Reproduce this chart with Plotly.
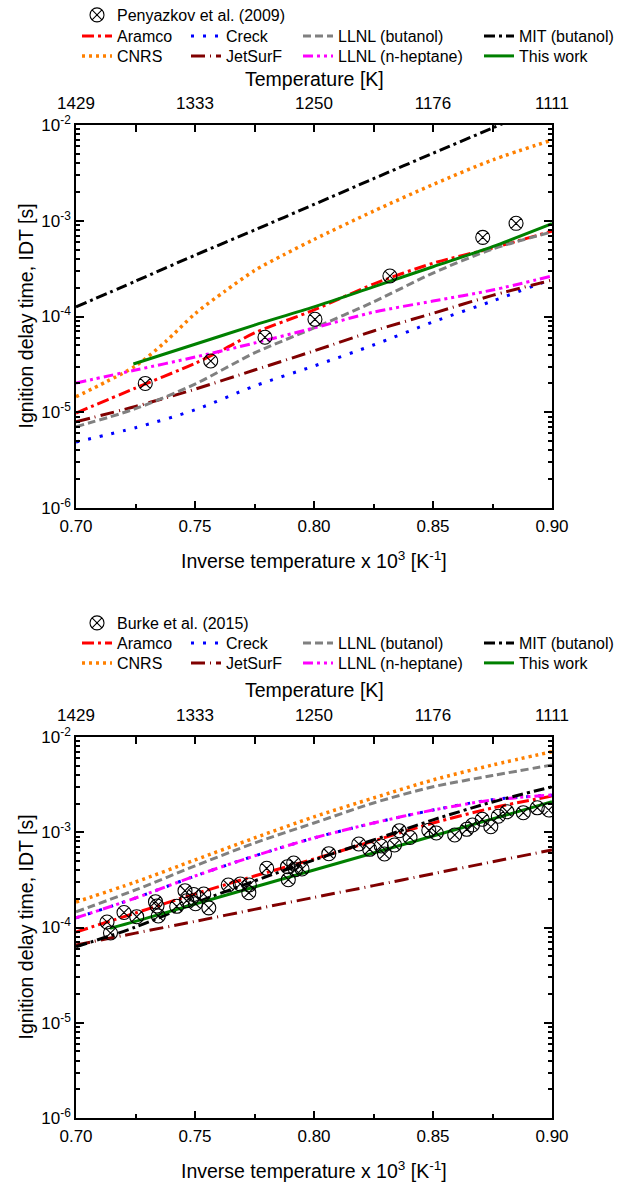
import plotly.graph_objects as go

# ---------------- data ----------------
X = [0.70, 0.725, 0.75, 0.775, 0.80, 0.825, 0.85, 0.875, 0.90]
x_ticks = [0.70, 0.75, 0.80, 0.85, 0.90]
x_minor = [0.725, 0.775, 0.825, 0.875]
temp_labels = ["1429", "1333", "1250", "1176", "1111"]
y_tick_vals = [1e-6, 1e-5, 1e-4, 1e-3, 1e-2]
y_tick_text = ["10<sup>-6</sup>", "10<sup>-5</sup>", "10<sup>-4</sup>", "10<sup>-3</sup>", "10<sup>-2</sup>"]

# Panel 1: Penyazkov et al. (2009)
peny_x = [0.7291, 0.7566, 0.7794, 0.8004, 0.8319, 0.8709, 0.8849]
peny_y = [2.0e-5, 3.43e-5, 6.07e-5, 9.35e-5, 2.65e-4, 6.71e-4, 9.4e-4]

aramco1_x = [0.70, 0.725, 0.75, 0.7625, 0.775, 0.80, 0.825, 0.85, 0.875, 0.90]
aramco1_y = [9.8e-6, 1.79e-5, 3.24e-5, 4.6e-5, 6.73e-5, 1.17e-4, 2.18e-4, 3.6e-4, 5.19e-4, 7.8e-4]
creck1_y = [4.89e-6, 6.9e-6, 1.06e-5, 1.88e-5, 3.04e-5, 5.04e-5, 8.77e-5, 1.45e-4, 2.45e-4]
llnlbut1_y = [7.06e-6, 1.09e-5, 1.97e-5, 4.16e-5, 7.59e-5, 1.42e-4, 2.84e-4, 5.07e-4, 7.64e-4]
mit1_y = [1.26e-4, 2.34e-4, 4.37e-4, 8.0e-4, 1.48e-3, 2.75e-3, 5.07e-3, 9.3e-3, 1.74e-2]
cnrs1_x = [0.70, 0.7125, 0.725, 0.7375, 0.75, 0.7625, 0.775, 0.7875, 0.80, 0.825, 0.85, 0.875, 0.90]
cnrs1_y = [1.45e-5, 2.07e-5, 3.04e-5, 5.42e-5, 1.07e-4, 1.83e-4, 3.02e-4, 4.44e-4, 6.37e-4,
           1.26e-3, 2.39e-3, 4.31e-3, 6.97e-3]
jetsurf1_y = [7.96e-6, 1.15e-5, 1.74e-5, 2.76e-5, 4.37e-5, 7.06e-5, 1.08e-4, 1.66e-4, 2.4e-4]
llnlhep1_y = [2.02e-5, 2.76e-5, 3.77e-5, 5.28e-5, 7.59e-5, 1.11e-4, 1.45e-4, 1.89e-4, 2.65e-4]
thiswork1_x = [0.7241, 0.75, 0.775, 0.80, 0.825, 0.85, 0.875, 0.90]
thiswork1_y = [3.19e-5, 5.13e-5, 8.13e-5, 1.26e-4, 2.04e-4, 3.31e-4, 5.37e-4, 9.33e-4]

# Panel 2: Burke et al. (2015)
burke_x = [0.71303, 0.71450, 0.72017, 0.72550, 0.73340, 0.73403, 0.73458, 0.74231, 0.74580,
           0.74651, 0.74945, 0.75021, 0.75366, 0.75580, 0.76399, 0.76903, 0.77282, 0.77261,
           0.78013, 0.78887, 0.79147, 0.79223, 0.78920, 0.79496, 0.80622, 0.81882, 0.82340,
           0.82824, 0.82962, 0.83382, 0.83584, 0.84034, 0.84824, 0.85139, 0.85912, 0.86416,
           0.86660, 0.87068, 0.87429, 0.87744, 0.88109, 0.88794, 0.89382, 0.89866]
burke_y = [1.142e-4, 8.76e-5, 1.437e-4, 1.298e-4, 1.866e-4, 1.681e-4, 1.32e-4, 1.669e-4, 2.434e-4,
           1.912e-4, 2.221e-4, 1.778e-4, 2.247e-4, 1.609e-4, 2.794e-4, 2.862e-4, 2.794e-4, 2.319e-4,
           4.182e-4, 4.347e-4, 4.754e-4, 4.044e-4, 3.176e-4, 4.113e-4, 5.953e-4, 7.526e-4, 6.622e-4,
           7.173e-4, 5.909e-4, 7.346e-4, 1.038e-3, 8.81e-4, 1.048e-3, 9.82e-4, 9.356e-4, 1.074e-3,
           1.192e-3, 1.368e-3, 1.144e-3, 1.471e-3, 1.643e-3, 1.604e-3, 1.806e-3, 1.712e-3]

aramco2_y = [8.97e-5, 1.42e-4, 2.25e-4, 3.47e-4, 5.24e-4, 8.09e-4, 1.25e-3, 1.8e-3, 2.4e-3]
creck2_y = [1.26e-4, 2.04e-4, 3.47e-4, 5.64e-4, 8.71e-4, 1.25e-3, 1.71e-3, 2.2e-3, 2.45e-3]
llnlbut2_y = [1.46e-4, 2.48e-4, 4.43e-4, 7.71e-4, 1.25e-3, 2.03e-3, 3.0e-3, 3.94e-3, 5.08e-3]
mit2_y = [6.28e-5, 1.01e-4, 1.81e-4, 3.08e-4, 5.12e-4, 8.3e-4, 1.35e-3, 2.08e-3, 3.0e-3]
cnrs2_y = [1.85e-4, 3.0e-4, 5.12e-4, 8.71e-4, 1.45e-3, 2.29e-3, 3.54e-3, 5.08e-3, 7.01e-3]
jetsurf2_y = [6.55e-5, 8.73e-5, 1.16e-4, 1.55e-4, 2.07e-4, 2.75e-4, 3.67e-4, 4.9e-4, 6.52e-4]
llnlhep2_y = [1.26e-4, 2.04e-4, 3.47e-4, 5.64e-4, 8.71e-4, 1.25e-3, 1.71e-3, 2.18e-3, 2.46e-3]
thiswork2_x = [0.7143, 0.725, 0.75, 0.775, 0.80, 0.825, 0.85, 0.875, 0.90]
thiswork2_y = [9.82e-5, 1.16e-4, 1.76e-4, 2.66e-4, 4.01e-4, 6.05e-4, 9.12e-4, 1.38e-3, 2.09e-3]

# ---------------- styling ----------------
W, H = 618, 1184
FONT = "Liberation Sans, Arial, sans-serif"
styles = {
    "Aramco": dict(color="#ff0000", dash="12px,4px,3px,4px", width=3),
    "Creck": dict(color="#0000ff", dash="3px,9px", width=3),
    "LLNL (butanol)": dict(color="#808080", dash="8px,4px", width=3),
    "MIT (butanol)": dict(color="#000000", dash="11px,4px,3px,4px", width=3),
    "CNRS": dict(color="#ff8000", dash="3px,4px", width=3.5),
    "JetSurF": dict(color="#800000", dash="14px,5px,1px,5px", width=3),
    "LLNL (n-heptane)": dict(color="#ff00ff", dash="10px,4px,3px,4px,3px,4px", width=3),
    "This work": dict(color="#008000", dash="solid", width=3),
}

# legend cell layout: (row, text-left pixel)
cell_pos = {
    "Aramco": (1, 117), "Creck": (1, 226), "LLNL (butanol)": (1, 338), "MIT (butanol)": (1, 519),
    "CNRS": (2, 117), "JetSurF": (2, 226), "LLNL (n-heptane)": (2, 338), "This work": (2, 519),
}


def px(v):
    return v / W


def py(v):
    return 1 - v / H


fig = go.Figure()

panels = [
    dict(xa="x", ya="y", xt="x3",
         exp=("Penyazkov et al. (2009)", peny_x, peny_y),
         series=[("Aramco", aramco1_x, aramco1_y), ("CNRS", cnrs1_x, cnrs1_y),
                 ("Creck", X, creck1_y), ("JetSurF", X, jetsurf1_y),
                 ("LLNL (butanol)", X, llnlbut1_y), ("LLNL (n-heptane)", X, llnlhep1_y),
                 ("MIT (butanol)", X, mit1_y), ("This work", thiswork1_x, thiswork1_y)],
         top=125, bottom=508, rows=[15, 36, 56], ttl=79),
    dict(xa="x2", ya="y2", xt="x4",
         exp=("Burke et al. (2015)", burke_x, burke_y),
         series=[("Aramco", X, aramco2_y), ("CNRS", X, cnrs2_y),
                 ("Creck", X, creck2_y), ("JetSurF", X, jetsurf2_y),
                 ("LLNL (butanol)", X, llnlbut2_y), ("LLNL (n-heptane)", X, llnlhep2_y),
                 ("MIT (butanol)", X, mit2_y), ("This work", thiswork2_x, thiswork2_y)],
         top=737, bottom=1118, rows=[623, 643, 663], ttl=690),
]

legfont = dict(family=FONT, size=16, color="black")
leg_layouts = {}
leg_counter = [0]


def new_legend(text_left, row_center):
    leg_counter[0] += 1
    name = "legend" if leg_counter[0] == 1 else "legend%d" % leg_counter[0]
    leg_layouts[name] = dict(x=px(text_left - 40), y=py(row_center), xanchor="left",
                             yanchor="middle", font=legfont, bgcolor="rgba(0,0,0,0)",
                             orientation="v", borderwidth=0)
    return name


for p in panels:
    for name, xs, ys in p["series"]:
        st = styles[name]
        row, tl = cell_pos[name]
        lg = new_legend(tl, p["rows"][row])
        fig.add_trace(go.Scatter(
            x=xs, y=ys, mode="lines", name=name, xaxis=p["xa"], yaxis=p["ya"], legend=lg,
            line=dict(color=st["color"], dash=st["dash"], width=st["width"],
                      shape="spline", smoothing=0.8),
            hoverinfo="skip"))
    ename, ex, ey = p["exp"]
    lg = new_legend(117, p["rows"][0])
    fig.add_trace(go.Scatter(
        x=ex, y=ey, mode="markers", name=ename, xaxis=p["xa"], yaxis=p["ya"], legend=lg,
        marker=dict(symbol="circle-x-open", size=14, color="black", line=dict(width=1.1, color="black"))))
    # helper (invisible) trace so that the top temperature axis is drawn
    fig.add_trace(go.Scatter(x=x_ticks, y=[None] * len(x_ticks), xaxis=p["xt"], yaxis=p["ya"],
                             mode="lines", showlegend=False, hoverinfo="skip"))

minor_y = [m * 10 ** e for e in range(-6, -2) for m in range(2, 10)]

tickfont = dict(family=FONT, size=17, color="black")
titlefont = dict(family=FONT, size=19.5, color="black")

layout = dict(
    width=W, height=H, margin=dict(l=0, r=0, t=0, b=0, autoexpand=False),
    paper_bgcolor="white", plot_bgcolor="white", showlegend=True,
    font=dict(family=FONT, color="black"),
)
layout.update(leg_layouts)

xdom = [76 / W, 552 / W]
annotations = []
for i, p in enumerate(panels):
    sfx = "" if i == 0 else "2"
    ydom = [py(p["bottom"]), py(p["top"])]
    layout["xaxis" + sfx] = dict(
        domain=xdom, anchor="y" + sfx, range=[0.70, 0.90], tickmode="array", tickvals=x_ticks,
        ticktext=["%.2f" % v for v in x_ticks], ticks="inside", ticklen=7, tickwidth=1.5,
        tickcolor="black", showline=True, linecolor="black", linewidth=1.5, showgrid=False,
        zeroline=False, tickfont=tickfont, automargin=False, ticklabelstandoff=2,
        minor=dict(tickvals=x_minor, ticks="inside", ticklen=4,
                   tickwidth=1.5, tickcolor="black", showgrid=False))
    layout["xaxis" + str(3 + i)] = dict(
        overlaying="x" + sfx, side="top", anchor="y" + sfx, range=[0.70, 0.90], tickmode="array",
        tickvals=x_ticks, ticktext=temp_labels, ticks="inside", ticklen=7, tickwidth=1.5,
        tickcolor="black", showline=True, linecolor="black", linewidth=1.5, showgrid=False,
        zeroline=False, tickfont=tickfont, automargin=False, ticklabelstandoff=7,
        minor=dict(tickvals=x_minor, ticks="inside", ticklen=7,
                   tickwidth=1.5, tickcolor="black", showgrid=False))
    layout["yaxis" + sfx] = dict(
        domain=ydom, anchor="x" + sfx, type="log", range=[-6, -2], tickmode="array",
        tickvals=y_tick_vals, ticktext=y_tick_text, ticks="inside", ticklen=8, tickwidth=1.5,
        tickcolor="black", showline=True, linecolor="black", linewidth=1.5, mirror="ticks",
        showgrid=False, zeroline=False, tickfont=tickfont, automargin=False,
        minor=dict(tickvals=minor_y, ticks="inside", ticklen=4, tickwidth=1.5, tickcolor="black",
                   showgrid=False))

    annotations.append(dict(text="Temperature [K]", x=px(314), y=py(p["ttl"]), xref="paper",
                            yref="paper", showarrow=False, font=titlefont,
                            xanchor="center", yanchor="middle"))
    annotations.append(dict(text="Inverse temperature x 10<sup>3</sup> [K<sup>-1</sup>]", x=px(314),
                            y=py(p["bottom"] + 52), xref="paper", yref="paper", showarrow=False,
                            font=titlefont, xanchor="center", yanchor="middle"))
    annotations.append(dict(text="Ignition delay time, IDT [s]", x=px(25),
                            y=py((p["top"] + p["bottom"]) / 2), xref="paper", yref="paper",
                            showarrow=False, font=titlefont, textangle=-90,
                            xanchor="center", yanchor="middle"))

layout["annotations"] = annotations
fig.update_layout(**layout)
fig.write_html("out.html")
